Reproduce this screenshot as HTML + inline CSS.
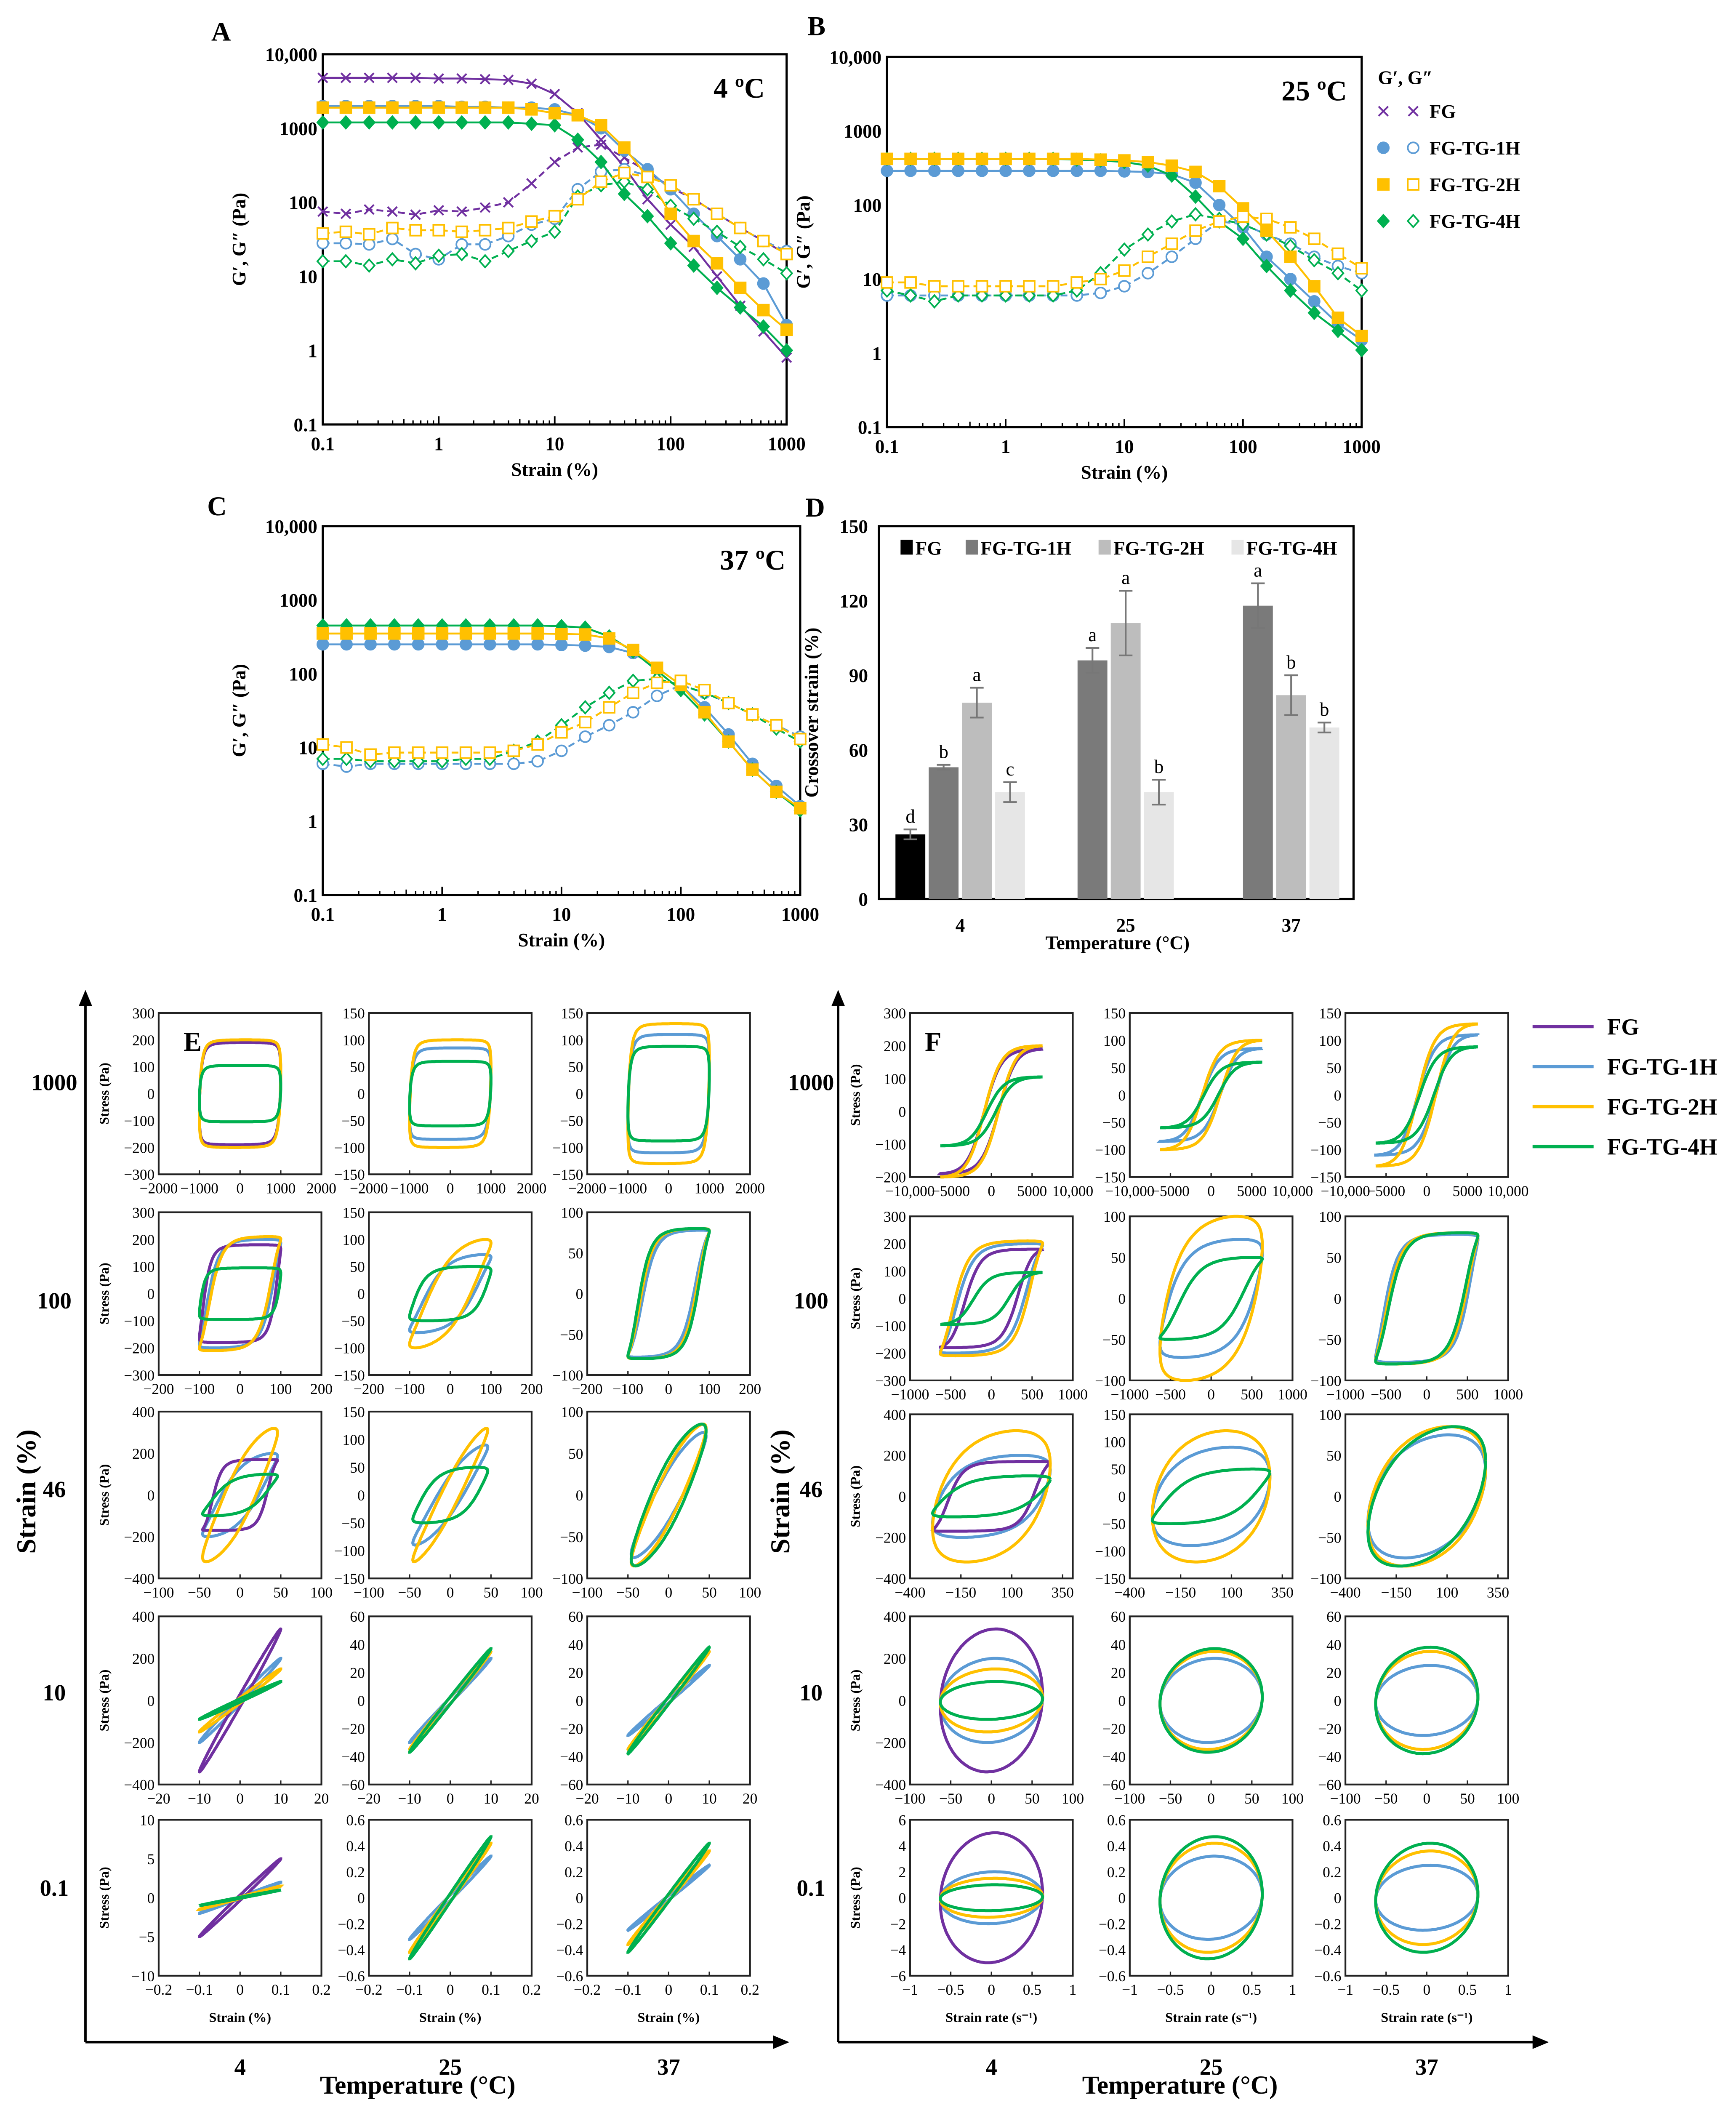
<!DOCTYPE html>
<html><head><meta charset="utf-8"><style>
html,body{margin:0;padding:0;background:#fff;overflow:hidden;width:4124px;height:5044px;}
svg{display:block;font-family:"Liberation Serif",serif;}
</style></head><body>
<svg id="fig" width="4124" height="5044" viewBox="0 0 1280 1566" preserveAspectRatio="none" xmlns="http://www.w3.org/2000/svg"></svg>
<script>
// ---------- data: panels A-C (strain sweep) ----------
const strainPts=[0.1,0.158,0.251,0.398,0.631,1,1.58,2.51,3.98,6.31,10,15.8,25.1,39.8,63.1,100,158,251,398,631,1000];
const aFG_Gp=[4800,4800,4800,4800,4800,4700,4700,4600,4500,4000,2900,1600,700,300,110,50,25,10,4,1.8,0.8];
const aFG_Gpp=[75,70,80,75,68,78,75,85,100,180,350,550,600,400,260,160,110,70,45,30,20];
const a1H_Gp=[2000,2000,2000,2000,2000,2000,1950,1950,1900,1900,1800,1500,1000,500,280,150,70,35,17,8,2.2];
const a1H_Gpp=[28,28,27,32,20,17,27,27,35,50,60,150,260,280,230,170,110,70,45,30,22];
const a2H_Gp=[1900,1900,1900,1900,1900,1900,1900,1900,1900,1800,1600,1500,1100,550,220,70,30,15,7,3.5,1.9];
const a2H_Gpp=[38,40,37,45,42,42,40,42,45,55,65,110,190,250,220,170,110,70,45,30,20];
const a4H_Gp=[1200,1200,1200,1200,1200,1200,1200,1200,1200,1150,1100,700,350,130,65,28,14,7,3.8,2.1,1];
const a4H_Gpp=[16,16,14,17,15,19,20,16,22,30,40,120,170,190,150,90,60,40,25,17,11];

const b1H_Gp=[290,290,290,290,290,290,290,290,290,290,285,280,260,200,100,50,20,10,5,2.5,1.5];
const b1H_Gpp=[6,6,6,6,6,6,6,6,6,6.5,8,12,20,35,60,55,40,30,20,15,12];
const b2H_Gp=[420,420,420,420,420,420,420,420,420,410,400,380,340,280,180,90,45,20,8,3,1.7];
const b2H_Gpp=[9,9,8,8,8,8,8,8,9,10,13,20,30,45,60,70,65,50,35,22,14];
const b4H_Gp=[420,420,420,420,420,420,420,420,410,400,380,340,250,130,60,35,15,7,3.5,2,1.1];
const b4H_Gpp=[7,6,5,6,6,6,6,6,7,12,25,40,60,75,65,55,40,28,18,12,7];

const c1H_Gp=[250,250,250,250,250,250,250,250,250,250,245,240,230,190,120,70,35,15,6,3,1.6];
const c1H_Gpp=[6,5.5,6,6,6,6,6,6,6,6.5,9,14,20,30,50,70,55,40,28,20,14];
const c2H_Gp=[350,350,350,350,350,350,350,350,350,350,345,340,300,210,120,70,30,12,5,2.5,1.5];
const c2H_Gpp=[11,10,8,8.5,8.5,8.5,8.5,8.5,9,11,16,22,35,55,75,80,60,40,28,20,13];
const c4H_Gp=[450,450,450,450,450,450,450,450,450,450,440,420,320,200,110,60,28,12,5,2.5,1.4];
const c4H_Gpp=[7,7,6.5,6.5,6.5,6.5,7,7,9,12,20,35,55,80,85,70,55,40,28,18,12];

const logYTicks=[0.1,1,10,100,1000,10000];
const logYLabels=['0.1','1','10','100','1000','10,000'];
const logXTicks=[0.1,1,10,100,1000];
const logXLabels=['0.1','1','10','100','1000'];

// ---------- data: panel D ----------
const dCats=['4','25','37'];
const dSeries=['FG','FG-TG-1H','FG-TG-2H','FG-TG-4H'];
const dFG=[26,null,null];
const d1H=[53,96,118];
const d2H=[79,111,82];
const d4H=[43,43,69];
const dErrFG=[2,null,null];
const dErr1H=[1,5,9];
const dErr2H=[6,13,8];
const dErr4H=[4,5,2];
const dLetFG=['d',null,null];
const dLet1H=['b','a','a'];
const dLet2H=['a','a','b'];
const dLet4H=['c','b','b'];
const dTicks=[0,30,60,90,120,150];

// ---------- data: panels E/F (Lissajous) ----------
const rowStrain=[1000,100,46,10,0.1];
const rowLabels=['1000','100','46','10','0.1'];
const colTemps=['4','25','37'];
const ampFG=[[190,null,null],[180,null,null],[170,null,null],[340,null,null],[5,null,null]];
const amp1H=[[190,85,110],[200,72,78],[200,90,75],[200,30,25],[2,0.32,0.25]];
const amp2H=[[200,100,130],[210,100,80],[320,120,85],[150,35,35],[1.5,0.42,0.36]];
const amp4H=[[105,60,88],[95,50,80],[100,50,85],[90,37,38],[1,0.47,0.42]];
const phFG=[[82,0,0],[60,0,0],[45,0,0],[5,0,0],[4,0,0]];
const ph1H=[[82,80,80],[50,35,38],[30,20,22],[5,4,4],[4,4,4]];
const ph2H=[[82,80,80],[45,30,42],[25,15,22],[5,4,4],[4,4,4]];
const ph4H=[[85,82,82],[70,55,45],[40,45,28],[5,4,4],[4,4,4]];
const satFG=[[3,0,0],[3,0,0],[3,0,0],[0,0,0],[0,0,0]];
const sat1H=[[3,3,3],[2.5,1.5,2.5],[1.2,0.8,0.6],[0,0,0],[0,0,0]];
const sat2H=[[3,3,3],[2.5,1.2,2.5],[0.8,0.6,0.6],[0,0,0],[0,0,0]];
const sat4H=[[3,3,3],[3,2,2.5],[1.5,1.5,0.6],[0,0,0],[0,0,0]];
const eYMax=[[300,150,150],[300,150,100],[400,150,100],[400,60,60],[10,0.6,0.6]];
const eYStep=[[100,50,50],[100,50,50],[200,50,50],[200,20,20],[5,0.2,0.2]];
const eXMax=[2000,200,100,20,0.2];
const eXStep=[1000,100,50,10,0.1];
const fYMin=[[-200,-150,-150],[-300,-100,-100],[-400,-150,-100],[-400,-60,-60],[-6,-0.6,-0.6]];
const fYMax=[[300,150,150],[300,100,100],[400,150,100],[400,60,60],[6,0.6,0.6]];
const fYStep=[[100,50,50],[100,50,50],[200,50,50],[200,20,20],[2,0.2,0.2]];
const fXMax=[10000,1000,400,100,1];
const fXStep=[5000,500,250,50,0.5];

const C_FG='#7030a0',C_1H='#5b9bd5',C_2H='#ffc000',C_4H='#00b050';

const NS='http://www.w3.org/2000/svg';
const svg=document.getElementById('fig');
function mk(tag,attrs,parent){const e=document.createElementNS(NS,tag);for(const k in attrs)e.setAttribute(k,attrs[k]);(parent||svg).appendChild(e);return e;}
function txt(s,x,y,size,anchor,parent,weight){const t=mk('text',{x:x,y:y,'font-size':size,'text-anchor':anchor||'middle','font-weight':weight||'bold',fill:'#000'},parent);t.textContent=s;return t;}
function fmt(v){let s=Math.abs(v);let str=(Math.round(s*1000)/1000).toString();if(s>=10000)str=str.replace(/(\d)(?=(\d{3})+$)/,'$1,');return (v<0?'\u2212':'')+str;}

function logPanel(name,box,series,title,letter,lx,ly){
  const [x0,x1,y0,y1]=box;
  const g=mk('g',{});
  
  
  const X=v=>x0+(Math.log10(v)+1)/4*(x1-x0);
  const Y=v=>y1-(Math.log10(v)+1)/5*(y1-y0);
  const fr=mk('rect',{x:x0,y:y0,width:x1-x0,height:y1-y0,fill:'none',stroke:'#000','stroke-width':1.6},g);
  
  
  logYTicks.forEach((v,i)=>{const t=txt(logYLabels[i],x0-4,Y(v)+5,14,'end',g);
    
    });
  logXTicks.forEach((v,i)=>{const t=txt(logXLabels[i],X(v),y1+19,14,'middle',g);
    
    });
  for(let d=-1;d<3;d++)for(let m=2;m<=9;m++){const xx=X(m*Math.pow(10,d));mk('line',{x1:xx,x2:xx,y1:y1,y2:y1-(m==5?4:3),stroke:'#000','stroke-width':1},g);}
  logXTicks.forEach(v=>mk('line',{x1:X(v),x2:X(v),y1:y1,y2:y1-6,stroke:'#000','stroke-width':1.2},g));
  const xt=txt('Strain (%)',(x0+x1)/2,y1+38,14,'middle',g);
  
  
  const yt=txt('G\u2032, G\u2033 (Pa)',0,0,14,'middle',g);
  yt.setAttribute('transform','translate('+(x0-57)+','+((y0+y1)/2)+') rotate(-90)');
  
  
  const tt=txt(title,x1-35,y0+32,21,'middle',g);
  
  
  const lt=txt(letter,lx,ly,20,'middle',g);
  
  
  series.forEach(s=>{
    const pts=strainPts.map((v,i)=>X(v).toFixed(1)+','+Y(s.data[i]).toFixed(1)).join(' ');
    const pl=mk('polyline',{points:pts,fill:'none',stroke:s.color,'stroke-width':1.4,'stroke-dasharray':s.dashed?'5,3':'none'},g);
    
    
    strainPts.forEach((v,i)=>{const cx=X(v),cy=Y(s.data[i]);let m;
      if(s.marker==='x'){m=mk('path',{d:`M${cx-3.5},${cy-3.5}L${cx+3.5},${cy+3.5}M${cx-3.5},${cy+3.5}L${cx+3.5},${cy-3.5}`,stroke:s.color,'stroke-width':1.3,fill:'none'},g);}
      else if(s.marker==='o'){m=mk('circle',{cx:cx,cy:cy,r:4,fill:s.filled?s.color:'#fff','stroke':s.color,'stroke-width':1.2},g);}
      else if(s.marker==='s'){m=mk('rect',{x:cx-4,y:cy-4,width:8,height:8,fill:s.filled?s.color:'#fff',stroke:s.color,'stroke-width':1.2},g);}
      else {m=mk('path',{d:`M${cx},${cy-4.5}L${cx+4},${cy}L${cx},${cy+4.5}L${cx-4},${cy}Z`,fill:s.filled?s.color:'#fff',stroke:s.color,'stroke-width':1.2},g);}
      
      });
  });
}
logPanel('panel-a-4c',[238,580,40,313],[
 {name:'fg-g-prime',data:aFG_Gp,color:C_FG,marker:'x',filled:true},
 {name:'fg-g-double-prime',data:aFG_Gpp,color:C_FG,marker:'x',dashed:true},
 {name:'fg-tg-1h-g-prime',data:a1H_Gp,color:C_1H,marker:'o',filled:true},
 {name:'fg-tg-1h-g-double-prime',data:a1H_Gpp,color:C_1H,marker:'o',dashed:true},
 {name:'fg-tg-4h-g-prime',data:a4H_Gp,color:C_4H,marker:'d',filled:true},
 {name:'fg-tg-4h-g-double-prime',data:a4H_Gpp,color:C_4H,marker:'d',dashed:true},
 {name:'fg-tg-2h-g-prime',data:a2H_Gp,color:C_2H,marker:'s',filled:true},
 {name:'fg-tg-2h-g-double-prime',data:a2H_Gpp,color:C_2H,marker:'s',dashed:true}],'4 \u00BAC','A',163,30);
logPanel('panel-b-25c',[654,1004,42,315],[
 {name:'fg-tg-1h-g-prime',data:b1H_Gp,color:C_1H,marker:'o',filled:true},
 {name:'fg-tg-1h-g-double-prime',data:b1H_Gpp,color:C_1H,marker:'o',dashed:true},
 {name:'fg-tg-4h-g-prime',data:b4H_Gp,color:C_4H,marker:'d',filled:true},
 {name:'fg-tg-4h-g-double-prime',data:b4H_Gpp,color:C_4H,marker:'d',dashed:true},
 {name:'fg-tg-2h-g-prime',data:b2H_Gp,color:C_2H,marker:'s',filled:true},
 {name:'fg-tg-2h-g-double-prime',data:b2H_Gpp,color:C_2H,marker:'s',dashed:true}],'25 \u00BAC','B',602,26);
logPanel('panel-c-37c',[238,590,388,660],[
 {name:'fg-tg-1h-g-prime',data:c1H_Gp,color:C_1H,marker:'o',filled:true},
 {name:'fg-tg-1h-g-double-prime',data:c1H_Gpp,color:C_1H,marker:'o',dashed:true},
 {name:'fg-tg-4h-g-prime',data:c4H_Gp,color:C_4H,marker:'d',filled:true},
 {name:'fg-tg-4h-g-double-prime',data:c4H_Gpp,color:C_4H,marker:'d',dashed:true},
 {name:'fg-tg-2h-g-prime',data:c2H_Gp,color:C_2H,marker:'s',filled:true},
 {name:'fg-tg-2h-g-double-prime',data:c2H_Gpp,color:C_2H,marker:'s',dashed:true}],'37 \u00BAC','C',160,380);

(function(){
  const g=mk('g',{});
  
  
  txt('G\u2032, G\u2033',1016,62,14,'start',g);
  const items=[['FG',C_FG,'x'],['FG-TG-1H',C_1H,'o'],['FG-TG-2H',C_2H,'s'],['FG-TG-4H',C_4H,'d']];
  items.forEach((it,i)=>{const y=82+i*27;
    [1020,1042].forEach((x,j)=>{let m;
      if(it[2]==='x')m=mk('path',{d:`M${x-3.5},${y-3.5}L${x+3.5},${y+3.5}M${x-3.5},${y+3.5}L${x+3.5},${y-3.5}`,stroke:it[1],'stroke-width':1.3},g);
      else if(it[2]==='o')m=mk('circle',{cx:x,cy:y,r:4,fill:j?'#fff':it[1],stroke:it[1],'stroke-width':1.2},g);
      else if(it[2]==='s')m=mk('rect',{x:x-4,y:y-4,width:8,height:8,fill:j?'#fff':it[1],stroke:it[1],'stroke-width':1.2},g);
      else m=mk('path',{d:`M${x},${y-4.5}L${x+4},${y}L${x},${y+4.5}L${x-4},${y}Z`,fill:j?'#fff':it[1],stroke:it[1],'stroke-width':1.2},g);
      
      });
    const t=txt(it[0],1054,y+5,14,'start',g);
    
    
  });
})();

(function(){
  const x0=648,x1=998,y0=388,y1=663;
  const g=mk('g',{});
  
  
  const Y=v=>y1-v/150*(y1-y0);
  const catX=i=>708+i*122;
  mk('rect',{x:x0,y:y0,width:x1-x0,height:y1-y0,fill:'none',stroke:'#000','stroke-width':1.6},g);
  dTicks.forEach(v=>{const t=txt(String(v),x0-8,Y(v)+5,14,'end',g);
    
    });
  const colors=['#000','#7a7a7a','#bdbdbd','#e6e6e6'];
  const vals=[dFG,d1H,d2H,d4H],errs=[dErrFG,dErr1H,dErr2H,dErr4H],lets=[dLetFG,dLet1H,dLet2H,dLet4H];
  dCats.forEach((c,ci)=>{
    const present=[0,1,2,3].filter(s=>vals[s][ci]!=null);
    present.forEach((s,k)=>{
      const cx=catX(ci)+(k-(present.length-1)/2)*24.5;
      const v=vals[s][ci],e=errs[s][ci];
      const r=mk('rect',{x:cx-11,y:Y(v),width:22,height:y1-Y(v),fill:colors[s]},g);
      
      
      mk('path',{d:`M${cx},${Y(v+e)}V${Y(v-e)}M${cx-5},${Y(v+e)}H${cx+5}M${cx-5},${Y(v-e)}H${cx+5}`,stroke:'#777','stroke-width':1.3,fill:'none'},g);
      const lt=txt(lets[s][ci],cx,Y(v+e)-5,14,'middle',g,'normal');
      
      
    });
    const t=txt(c,catX(ci),y1+24,14,'middle',g);
    
    
  });
  const xt=txt('Temperature (\u00B0C)',824,y1+37,14,'middle',g);
  
  
  const yt=txt('Crossover strain (%)',0,0,14,'middle',g);
  yt.setAttribute('transform','translate(603,'+((y0+y1)/2)+') rotate(-90)');
  
  
  const lt=txt('D',601,381,20,'middle',g);
  
  
  const lx=[664,712,810,908];
  dSeries.forEach((s,i)=>{
    const sq=mk('rect',{x:lx[i],y:398,width:9,height:11,fill:colors[i]},g);
    
    
    const t=txt(s,lx[i]+11,409,14,'start',g);
    
    
  });
})();

const eColX=[117,272,433];
const fColX=[671,833,992];
const plotW=120;
const eRowY=[[747,866],[894,1014],[1041,1164],[1192,1316],[1342,1457]];
const fRowY=[[747,868],[897,1018],[1043,1164],[1192,1316],[1342,1457]];
function lissPlot(panel,r,c,fx,fy0,fy1,xmax,xstep,ymin,ymax,ystep,useRate,xTitle){
  const g=mk('g',{});
  
  
  const X=v=>fx+(v+xmax)/(2*xmax)*plotW;
  const Y=v=>fy1-(v-ymin)/(ymax-ymin)*(fy1-fy0);
  mk('rect',{x:fx,y:fy0,width:plotW,height:fy1-fy0,fill:'none',stroke:'#222','stroke-width':1.3},g);
  for(let v=ymin;v<=ymax+1e-9;v+=ystep){const t=txt(fmt(Math.round(v*1000)/1000),fx-3,Y(v)+4,11,'end',g,'normal');
    
    }
  for(let v=-xmax;v<=xmax+1e-9;v+=xstep){const xv=Math.round(v*1000)/1000;
    mk('line',{x1:X(xv),x2:X(xv),y1:fy1,y2:fy1-3,stroke:'#222','stroke-width':1},g);
    const t=txt(fmt(xv),X(xv),fy1+14,11,'middle',g,'normal');
    
    }
  if(c===0){const yt=txt('Stress (Pa)',0,0,10,'middle',g);
    yt.setAttribute('transform','translate('+(fx-37)+','+((fy0+fy1)/2)+') rotate(-90)');
    
    }
  if(xTitle){const xt=txt(xTitle,fx+plotW/2,fy1+34,10,'middle',g);
    
    }
  const sets=[[amp1H,ph1H,sat1H,C_1H,'fg-tg-1h'],[ampFG,phFG,satFG,C_FG,'fg'],[amp2H,ph2H,sat2H,C_2H,'fg-tg-2h'],[amp4H,ph4H,sat4H,C_4H,'fg-tg-4h']];
  const g0=rowStrain[r];
  sets.forEach(st=>{
    const A=st[0][r][c];if(A==null)return;
    const d=st[1][r][c]*Math.PI/180,a=st[2][r][c];
    let pts=[];
    for(let k=0;k<=160;k++){const t=k/160*2*Math.PI;
      const xv=useRate?g0*2*Math.PI*Math.cos(t):g0*Math.sin(t);
      const sv=a>0.05?A*Math.tanh(a*Math.sin(t+d))/Math.tanh(a):A*Math.sin(t+d);
      pts.push(X(xv).toFixed(1)+','+Y(sv).toFixed(1));}
    const p=mk('polyline',{points:pts.join(' '),fill:'none',stroke:st[3],'stroke-width':2.2},g);
    
    
  });
}
for(let r=0;r<5;r++)for(let c=0;c<3;c++){
  lissPlot('e',r,c,eColX[c],eRowY[r][0],eRowY[r][1],eXMax[r],eXStep[r],-eYMax[r][c],eYMax[r][c],eYStep[r][c],false,r===4?'Strain (%)':null);
  lissPlot('f',r,c,fColX[c],fRowY[r][0],fRowY[r][1],fXMax[r],fXStep[r],fYMin[r][c],fYMax[r][c],fYStep[r][c],true,r===4?'Strain rate (s\u207B\u00B9)':null);
}
(function(){
  const g=mk('g',{});
  
  
  [[63,580],[618,1140]].forEach((a,i)=>{
    mk('path',{d:`M${a[0]},1506V738M${a[0]},1506H${a[1]}`,stroke:'#000','stroke-width':1.8,fill:'none'},g);
    mk('path',{d:`M${a[0]-5},742L${a[0]},730L${a[0]+5},742Z`,fill:'#000'},g);
    mk('path',{d:`M${a[1]-10},1501L${a[1]+2},1506L${a[1]-10},1511Z`,fill:'#000'},g);
    const cols=i?fColX:eColX;
    colTemps.forEach((t,ci)=>{const tt=txt(t,cols[ci]+60,1530,17,'middle',g);
      
      });
    const tx=txt('Temperature (\u00B0C)',i?870:308,1544,19,'middle',g);
    
    
    const sx=txt('Strain (%)',0,0,20,'middle',g);
    sx.setAttribute('transform','translate('+(i?582:26)+',1100) rotate(-90)');
    
    
    const rowYc=[804,965,1104,1254,1398];
    rowLabels.forEach((l,ri)=>{const rt=txt(l,i?598:40,rowYc[ri],17,'middle',g);
      
      });
  });
  const le=txt('E',142,775,20,'middle',g);
  
  
  const lf=txt('F',688,775,20,'middle',g);
  
  
  const items=[['FG',C_FG],['FG-TG-1H',C_1H],['FG-TG-2H',C_2H],['FG-TG-4H',C_4H]];
  items.forEach((it,k)=>{const y=757+k*29.5;
    const ln=mk('line',{x1:1130,x2:1175,y1:y,y2:y,stroke:it[1],'stroke-width':2.5},g);
    
    
    const t=txt(it[0],1185,y+6,17,'start',g);
    
    });
})();
</script>
</body></html>
